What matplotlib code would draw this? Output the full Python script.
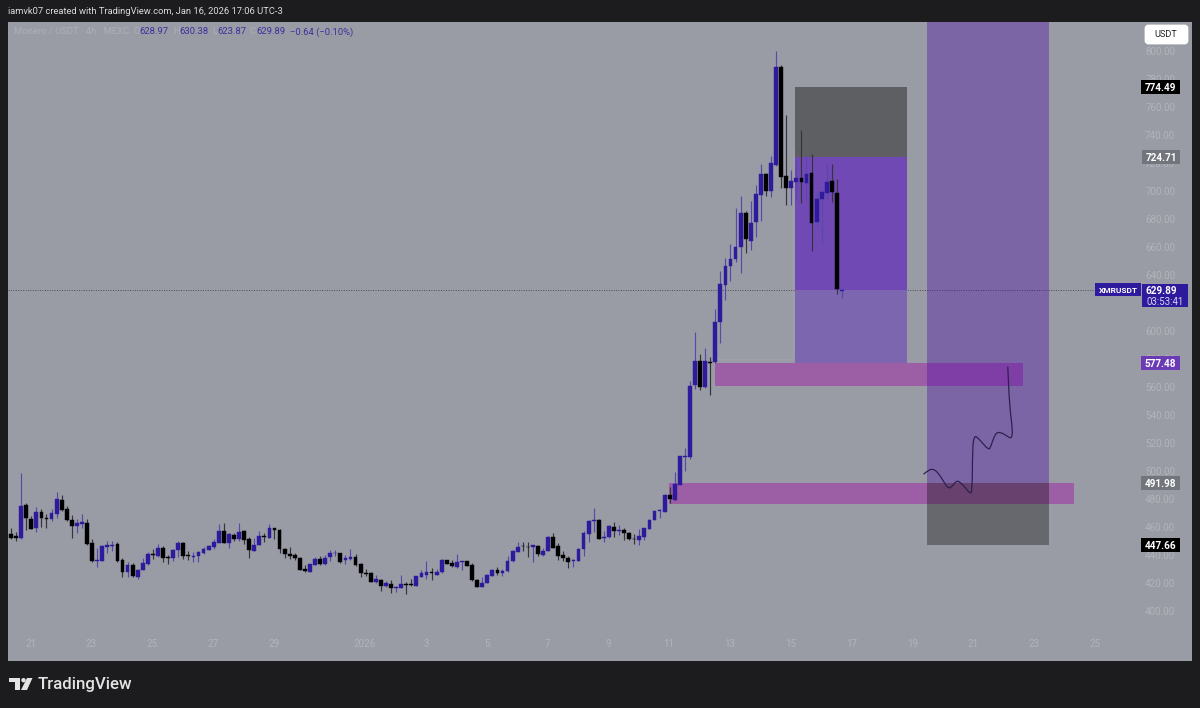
import numpy as np
import matplotlib
matplotlib.use("Agg")
import matplotlib.pyplot as plt
from matplotlib.patches import Rectangle, FancyBboxPatch, Polygon, Circle, PathPatch
from matplotlib.path import Path

plt.rcParams['font.family'] = ['Roboto', 'DejaVu Sans']

opens = [455.6,453.7,452.8,476.1,466.1,459.7,471.1,467.0,466.3,469.7,479.7,473.0,465.6,461.1,462.8,463.5,448.7,435.8,436.3,446.3,447.0,448.2,436.8,428.0,433.5,424.9,429.9,433.7,441.1,439.7,445.1,439.2,438.0,443.7,449.2,440.4,439.2,439.9,441.6,444.2,445.8,449.2,457.8,449.2,454.7,451.6,457.5,452.0,443.5,447.5,453.9,452.8,459.4,458.2,444.9,440.8,440.4,438.5,430.1,428.5,433.5,437.5,433.7,438.7,441.6,441.6,
         436.8,437.3,438.9,433.9,427.7,427.5,421.1,422.7,418.4,419.9,416.8,417.0,419.6,419.4,418.4,424.9,426.1,428.4,426.3,428.2,436.5,434.6,432.0,435.6,435.8,433.2,422.5,417.7,420.4,425.6,429.6,427.7,428.7,435.8,442.5,447.0,446.3,445.8,447.0,440.6,443.2,453.2,446.8,440.1,438.5,436.3,436.3,444.6,455.4,464.4,465.6,452.3,453.0,460.6,457.7,458.4,456.1,452.0,450.8,453.4,459.2,465.4,471.8,471.3,483.2,479.6,
         490.4,510.1,510.6,561.8,579.2,560.6,578.2,578.0,607.0,633.2,646.8,651.8,660.6,684.4,664.9,678.2,697.7,712.2,700.6,718.9,789.2,711.1,702.7,706.5,709.9,706.3,713.2,678.4,694.4,699.1,707.2,699.1,628.97]
closes = [452.3,452.3,475.6,466.6,459.2,471.1,466.6,466.3,470.1,480.1,472.5,465.4,460.8,463.0,463.9,448.2,435.8,436.8,446.8,447.5,447.5,435.8,428.0,433.2,425.1,429.9,434.4,441.1,440.4,445.1,438.2,438.2,444.0,449.2,439.9,439.7,439.7,442.8,444.4,446.6,449.7,457.8,449.2,455.1,451.8,456.8,451.1,443.7,447.8,453.7,453.0,459.7,458.5,444.7,440.8,439.9,438.0,429.9,428.7,433.7,437.7,433.9,438.5,442.0,442.0,435.6,
          438.0,438.9,433.0,427.5,426.8,421.1,423.0,418.4,420.1,416.8,417.7,419.6,419.2,418.7,425.1,427.5,428.4,427.5,428.4,437.0,434.2,432.5,435.6,436.1,432.7,422.5,417.7,420.6,426.3,429.6,427.3,429.2,436.1,443.2,446.3,446.5,445.8,447.3,440.8,443.2,453.4,445.6,439.6,438.2,435.6,436.8,444.9,455.8,464.4,465.6,452.0,453.2,461.1,457.5,458.2,455.8,451.5,451.5,453.9,459.4,465.6,471.5,472.3,483.5,480.6,490.8,
          511.1,511.1,561.3,579.2,560.1,578.7,577.7,607.0,634.2,646.8,652.0,660.3,684.4,665.8,677.7,698.2,712.2,700.6,720.3,789.2,710.6,702.2,707.7,709.9,706.5,712.5,677.2,694.6,699.6,707.0,699.9,630.3,629.89]
highs = [459.4,457.0,498.7,477.3,468.2,474.4,473.5,469.4,473.0,485.1,483.5,475.4,469.0,466.1,469.7,465.8,451.6,445.1,447.3,450.6,450.6,449.7,438.5,435.4,434.4,430.4,438.5,442.8,444.4,448.2,447.0,440.4,444.7,450.6,449.7,443.0,442.5,443.2,446.3,447.3,452.0,462.5,463.0,456.3,455.8,463.5,458.2,453.0,452.8,457.3,455.8,462.5,459.4,459.2,445.6,445.8,442.0,439.2,433.5,433.9,438.7,439.7,440.6,444.0,444.0,442.0,
         440.6,444.6,441.1,434.4,430.1,428.2,426.1,423.2,422.0,422.3,418.2,426.3,421.3,423.2,425.6,429.6,436.3,430.8,430.6,437.7,436.8,436.8,441.1,436.3,436.1,434.9,423.0,424.9,426.8,430.1,431.5,430.1,439.6,443.9,449.6,449.6,449.6,447.7,447.5,445.1,453.9,456.3,448.7,443.4,439.6,437.3,445.4,457.7,465.4,473.9,466.1,457.7,461.8,464.2,462.0,459.9,456.8,455.4,458.7,459.9,465.8,472.0,473.0,483.9,489.2,499.4,
         511.1,516.6,564.9,599.6,584.0,588.0,582.0,615.8,643.4,652.2,662.5,688.0,696.8,686.3,693.2,704.6,719.4,713.0,725.3,800.6,790.1,754.6,715.3,722.0,743.9,725.3,726.8,699.9,701.1,719.6,719.6,708.7,630.38]
lows = [451.6,450.6,452.0,458.2,459.0,457.0,460.1,459.9,464.4,467.0,471.6,464.7,452.8,455.8,459.4,447.5,435.4,431.8,436.1,442.0,443.0,435.6,424.7,424.9,424.7,423.5,429.7,433.5,437.3,439.2,435.1,434.2,435.8,438.7,437.5,436.8,435.1,435.1,441.1,443.7,444.9,449.0,448.7,445.4,450.6,450.6,448.2,438.5,443.0,447.3,449.9,452.5,452.0,442.0,438.0,437.8,437.0,429.4,428.2,428.2,433.0,433.5,433.5,436.3,439.7,434.9,
        433.9,436.8,432.5,424.6,425.1,420.8,420.6,414.9,417.3,413.0,414.2,416.6,412.5,418.2,418.2,424.4,423.0,422.7,425.8,427.7,433.9,432.0,430.8,429.6,432.5,422.0,417.3,417.3,420.1,425.4,426.3,425.4,428.4,435.4,442.3,443.4,438.7,435.1,439.6,439.9,443.0,445.4,436.8,435.8,431.3,431.6,436.1,439.6,449.6,457.0,451.8,449.9,452.7,453.0,454.6,451.3,451.1,448.2,447.7,451.1,458.9,465.1,466.5,471.1,477.7,479.2,
        490.1,500.6,509.2,558.9,558.2,559.4,554.4,577.7,591.6,622.5,636.3,649.9,641.5,655.8,658.2,667.7,678.9,696.8,696.3,718.2,702.2,690.6,690.6,693.9,692.0,693.9,657.7,676.1,662.5,694.4,692.5,626.8,623.87]

tick_days = [0,2,4,6,8,11,13,15,17,19,21,23,25,27,29,31,33,35]
tick_text = ["21","23","25","27","29","2026","3","5","7","9","11","13","15","17","19","21","23","25"]
price_ticks = list(range(400, 801, 20))

sketch_days = [29.37,29.53,29.70,29.86,30.03,30.19,30.33,30.44,30.55,30.74,30.90,30.97,30.98,31.03,31.18,31.51,31.58,31.73,31.89,32.11,32.27,32.30,32.20,32.14]
sketch_prices = [498.0,501.1,501.8,498.7,492.8,487.5,489.7,493.2,492.8,488.5,484.2,485.6,515.4,525.8,523.7,515.1,517.8,527.3,528.2,525.4,523.2,529.7,546.3,574.9]

left_tool = dict(start=25.14, end=28.82, target=774.49, entry=724.71, stop=577.48)
right_tool = dict(start=29.49, end=33.50, entry=491.98, stop=447.66)
zones = [(22.51, 32.64, 561.1, 577.48), (21.0, 34.32, 476.8, 491.98)]
last_price = 629.89

BG = "#9a9ca5"; DARK = "#1c1c1e"; BLUE = "#2e1a9c"; BLACK = "#000000"
TICK = "#b2b4ba"

fig = plt.figure(figsize=(12, 7.08), dpi=100, facecolor=DARK)
ax = fig.add_axes([8/1200, 47/708, 1184/1200, 639/708], facecolor=BG)
xlim = (-0.747, 38.2)
ax.set_xlim(*xlim)
ax.set_ylim(364.6, 821.07)
for s in ax.spines.values():
    s.set_visible(False)

for x0, x1, y0, y1 in zones:
    ax.add_patch(Rectangle((x0, y0), x1-x0, y1-y0, fc="#9c5fa6", ec="none", zorder=2))

t = right_tool
ax.add_patch(Rectangle((t['start'], t['entry']), t['end']-t['start'], 830-t['entry'], fc=(73/255, 6/255, 165/255, 0.36), ec="none", zorder=3))
ax.add_patch(Rectangle((t['start'], t['stop']), t['end']-t['start'], t['entry']-t['stop'], fc=(15/255, 14/255, 12/255, 0.36), ec="none", zorder=3))

t = left_tool
w = t['end']-t['start']
ax.add_patch(Rectangle((t['start'], t['entry']), w, t['target']-t['entry'], fc="#5d5f63", ec="none", zorder=3))
ax.add_patch(Rectangle((t['start'], last_price), w, t['entry']-last_price, fc="#7049b4", ec="none", zorder=3))
ax.add_patch(Rectangle((t['start'], t['stop']), w, last_price-t['stop'], fc="#7d66b0", ec="none", zorder=3))

ax.plot([22.51, 25.07, 25.07], [580.4, 580.4, 731], color="#a1a3aa", lw=0.7, zorder=1.5)

ax.plot([xlim[0], 35.0], [last_price]*2, color="#4a4a52", lw=0.7, ls=(0, (1, 1.5)), zorder=2.5)

o, h, l, c = map(np.array, (opens, highs, lows, closes))
days = -0.648 + np.arange(len(o)) / 6
up = c >= o
ax.vlines(days[up], l[up], h[up], color="#5549a9", lw=0.85, zorder=4)
ax.vlines(days[~up], l[~up], h[~up], color="#34343a", lw=0.85, zorder=4)
for mask, col in ((up, BLUE), (~up, BLACK)):
    bottom = np.minimum(o, c)[mask]
    height = np.abs(c-o)[mask]
    ax.bar(days[mask], height, 0.125, bottom=bottom, color=col, ec=col, lw=0.3, zorder=5)

pts = np.column_stack([sketch_days, sketch_prices])
verts = [pts[0]]; codes = [Path.MOVETO]
for i in range(1, len(pts)-1):
    verts += [pts[i], (pts[i]+pts[i+1])/2]
    codes += [Path.CURVE3, Path.CURVE3]
verts.append(pts[-1]); codes.append(Path.LINETO)
ax.add_patch(PathPatch(Path(verts, codes), fc="none", ec="#2b2150", lw=0.9, zorder=6))

ax.yaxis.tick_right()
ax.set_yticks(price_ticks)
ax.set_yticklabels([f"{v:.2f}" for v in price_ticks])
ax.set_xticks(tick_days)
ax.set_xticklabels(tick_text)
ax.tick_params(axis='x', length=0, pad=-16, labelsize=7.1, labelcolor=TICK)
ax.tick_params(axis='y', length=0, pad=-12, labelsize=7.1, labelcolor=TICK)
for lab in ax.get_yticklabels():
    lab.set_ha('right')

def fx(x): return x/1200
def fy(y): return 1-y/708

def tag(x0, x1, y, txt, fc, h=14):
    fig.patches.append(Rectangle((fx(x0), fy(y+h/2)), (x1-x0)/1200, h/708, fc=fc, ec="none", transform=fig.transFigure, zorder=10))
    fig.text(fx((x0+x1)/2), fy(y), txt, color="white", fontsize=7.2, fontweight="bold", ha="center", va="center_baseline", zorder=11)

ypx = lambda p: 51.5 + (800-p)*1.4
tag(1141, 1180, ypx(774.49), "774.49", "#000000")
tag(1142, 1180, ypx(724.71), "724.71", "#73757c")
tag(1141, 1180, ypx(577.48), "577.48", "#6a3bb5")
tag(1141, 1180, ypx(491.98), "491.98", "#73757c")
tag(1141, 1180, ypx(447.66), "447.66", "#000000")

fig.patches.append(Rectangle((fx(1142), fy(307)), 46/1200, 23/708, fc="#2e1a9c", ec="none", transform=fig.transFigure, zorder=10))
fig.text(fx(1161), fy(290.5), "629.89", color="white", fontsize=7.2, fontweight="bold", ha="center", va="center_baseline", zorder=11)
fig.text(fx(1165), fy(301), "03:53:41", color="#d8d4f0", fontsize=6.9, ha="center", va="center_baseline", zorder=11)
fig.patches.append(Rectangle((fx(1095), fy(296)), 46/1200, 13/708, fc="#2e1a9c", ec="none", transform=fig.transFigure, zorder=10))
fig.text(fx(1118), fy(289.8), "XMRUSDT", color="white", fontsize=6.0, fontweight="bold", ha="center", va="center_baseline", zorder=11)

ax_px = fig.add_axes([0, 0, 1, 1], facecolor="none", zorder=9)
ax_px.set_xlim(0, 1200); ax_px.set_ylim(708, 0); ax_px.axis("off")
ax_px.add_patch(FancyBboxPatch((1146, 26), 41, 17, boxstyle="round,pad=0,rounding_size=2.5", fc="white", ec="white", lw=2))
ax_px.text(1166, 34.5, "USDT", color="#222", fontsize=6.6, ha="center", va="center")

ax_px.text(8, 11, "iamvk07 created with TradingView.com, Jan 16, 2026 17:06 UTC-3", color="#dcdcdc", fontsize=6.75, va="center")
ax_px.text(14, 32, "Monero / USDT · 4h · MEXC", color="#aeb0b8", fontsize=6.8, va="center")
for x, lab, val in [(133, "O", "628.97"), (173, "H", "630.38"), (212, "L", "623.87"), (250, "C", "629.89")]:
    ax_px.text(x, 32, lab, color="#aeb0b8", fontsize=6.8, va="center")
vals_x = [139, 179, 217, 256]
for x, val in zip(vals_x, ["628.97", "630.38", "623.87", "629.89"]):
    ax_px.text(x, 32, val, color="#3d2f9e", fontsize=6.8, va="center")
ax_px.text(290, 32, "−0.64 (−0.10%)", color="#3d2f9e", fontsize=6.8, va="center")

logo = "#e4e4e4"
ax_px.add_patch(Polygon([(9, 678), (20, 678), (20, 690), (15, 690), (15, 682), (9, 682)], fc=logo, ec="none"))
ax_px.add_patch(Circle((23.5, 680.2), 2.2, fc=logo, ec="none"))
ax_px.add_patch(Polygon([(27, 678), (32.5, 678), (27, 690), (21, 690)], fc=logo, ec="none"))
ax_px.text(38, 684.5, "TradingView", color=logo, fontsize=12.2, fontweight="medium", va="center")

fig.savefig("out.png", dpi=100, facecolor=DARK)
